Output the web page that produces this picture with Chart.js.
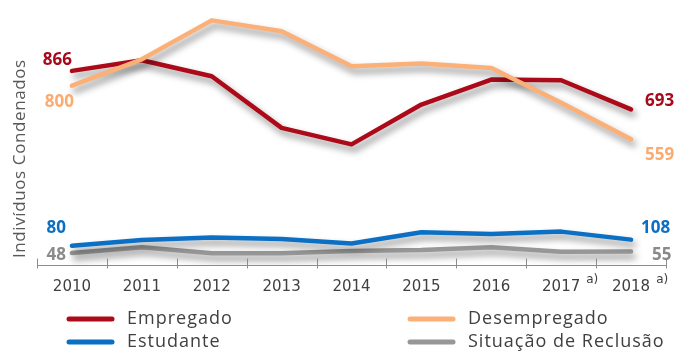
<!DOCTYPE html>
<html lang="pt">
<head>
<meta charset="utf-8">
<script src="https://cdn.jsdelivr.net/npm/chart.js@4.4.1/dist/chart.umd.min.js"></script>
<style>
  html, body { margin: 0; padding: 0; background: #fff; }
  #wrap { width: 679px; height: 352px; }
</style>
</head>
<body>
<div id="wrap"><canvas id="chart" width="679" height="352"></canvas></div>
<script>
const years = ["2010", "2011", "2012", "2013", "2014", "2015", "2016", "2017", "2018"];
const yearNotes = ["", "", "", "", "", "", "", "a)", "a)"];

const empregado = [866, 914, 842, 610, 536, 715, 827, 824, 693];
const desempregado = [800, 918, 1093, 1044, 887, 899, 879, 723, 559];
const estudante = [80, 106, 117, 111, 91, 141, 133, 144, 108];
const reclusao = [48, 74, 47, 47, 57, 61, 74, 54, 55];

const seriesNames = ["Empregado", "Desempregado", "Estudante", "Situação de Reclusão"];
const yTitle = "Indivíduos Condenados";

// colours and where each end label sits relative to its point
const STYLE = {
  Empregado:              { color: "#ad0a19", text: "#a8081a", order: 1, first: [0, -11],  last: [14, -8] },
  Desempregado:           { color: "#fbb078", text: "#fbab70", order: 0, first: [2, 17],   last: [14, 16] },
  Estudante:              { color: "#0b6fc4", text: "#0b6fc4", order: 2, first: [-6, -18], last: [10, -11] },
  "Situação de Reclusão": { color: "#979797", text: "#8a8a8a", order: 3, first: [-6, 2],   last: [21, 4] },
};

const LEGEND_POS = {
  Empregado: [67, 319],
  Desempregado: [408, 319],
  Estudante: [67, 342],
  "Situação de Reclusão": [408, 342],
};

const seriesData = [empregado, desempregado, estudante, reclusao];

const decorations = {
  id: "decorations",
  beforeDatasetDraw(chart) {
    const ctx = chart.ctx;
    ctx.save();
    ctx.shadowColor = "rgba(0,0,0,0.45)";
    ctx.shadowBlur = 7;
    ctx.shadowOffsetX = 3;
    ctx.shadowOffsetY = 5;
  },
  afterDatasetDraw(chart) {
    chart.ctx.restore();
  },
  afterDraw(chart) {
    const ctx = chart.ctx;
    const xs = chart.scales.x;
    ctx.save();

    // cross tick marks on the category axis
    const n = xs.getLabels().length;
    const step = (xs.right - xs.left) / n;
    const axisY = Math.round(xs.top) + 0.5;
    ctx.strokeStyle = "#8c8c8c";
    ctx.lineWidth = 1;
    ctx.beginPath();
    for (let i = 0; i <= n; i++) {
      const x = Math.round(xs.left + i * step) + 0.5;
      ctx.moveTo(x, axisY - 7);
      ctx.lineTo(x, axisY + 3);
    }
    ctx.stroke();

    // footnote markers after some year labels
    ctx.fillStyle = "#404040";
    ctx.textBaseline = "middle";
    ctx.textAlign = "left";
    yearNotes.forEach((note, i) => {
      if (!note) return;
      ctx.font = "15px 'DejaVu Sans'";
      const w = ctx.measureText(years[i]).width;
      ctx.font = "12px 'DejaVu Sans'";
      ctx.fillText(note, xs.getPixelForTick(i) + w / 2 + 6, xs.top + 15);
    });

    // first / last value labels
    ctx.font = "bold 17px 'Open Sans'";
    chart.data.datasets.forEach((ds, di) => {
      const st = STYLE[ds.label];
      const pts = chart.getDatasetMeta(di).data;
      const a = pts[0], b = pts[pts.length - 1];
      ctx.fillStyle = st.text;
      ctx.textAlign = "right";
      ctx.fillText(String(ds.data[0]), a.x + st.first[0], a.y + st.first[1]);
      ctx.textAlign = "left";
      ctx.fillText(String(ds.data[ds.data.length - 1]), b.x + st.last[0], b.y + st.last[1]);
    });

    // legend
    ctx.font = "18px 'Open Sans'";
    ctx.letterSpacing = "1px";
    ctx.textAlign = "left";
    ctx.lineCap = "round";
    seriesNames.forEach((name) => {
      const [lx, ly] = LEGEND_POS[name];
      ctx.strokeStyle = STYLE[name].color;
      ctx.lineWidth = 5;
      ctx.beginPath();
      ctx.moveTo(lx + 2, ly);
      ctx.lineTo(lx + 45, ly);
      ctx.stroke();
      ctx.fillStyle = "#404040";
      ctx.fillText(name, lx + 60, ly);
    });

    // vertical axis title
    ctx.translate(20, 258);
    ctx.rotate(-Math.PI / 2);
    ctx.font = "17px 'Open Sans'";
    ctx.letterSpacing = "0.6px";
    ctx.fillStyle = "#595959";
    ctx.fillText(yTitle, 0, 0);
    ctx.restore();
  },
};

new Chart(document.getElementById("chart"), {
  type: "line",
  data: {
    labels: years,
    datasets: seriesNames.map((name, i) => ({
      label: name,
      data: seriesData[i],
      borderColor: STYLE[name].color,
      order: STYLE[name].order,
    })),
  },
  options: {
    responsive: false,
    animation: false,
    layout: { padding: { left: 37, right: 13, top: 1, bottom: 0 } },
    elements: {
      point: { radius: 0, hoverRadius: 0 },
      line: { borderWidth: 4.5, tension: 0, borderCapStyle: "round", borderJoinStyle: "round" },
    },
    plugins: { legend: { display: false }, tooltip: { enabled: false } },
    scales: {
      x: {
        type: "category",
        offset: true,
        grid: { display: false, drawTicks: false },
        border: { display: true, color: "#8c8c8c", width: 1 },
        ticks: {
          color: "#404040",
          font: { family: "DejaVu Sans", size: 15 },
          padding: 13,
          maxRotation: 0,
          autoSkip: false,
        },
        afterFit(scale) { scale.height = 87; },
      },
      y: { display: false, min: -6, max: 1180 },
    },
  },
  plugins: [decorations],
});
</script>
</body>
</html>
